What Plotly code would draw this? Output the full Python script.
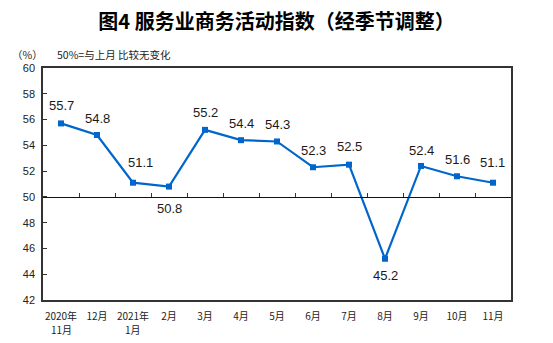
import plotly.graph_objects as go

# 服务业商务活动指数（经季节调整），2020年11月—2021年11月
months = ["2020年", "12月", "2021年", "2月", "3月", "4月", "5月",
          "6月", "7月", "8月", "9月", "10月", "11月"]
# second line under the year-opening months
month_sub = {0: "11月", 2: "1月"}
index_values = [55.7, 54.8, 51.1, 50.8, 55.2, 54.4, 54.3, 52.3, 52.5, 45.2, 52.4, 51.6, 51.1]

# label placement (pixels): negative yshift puts the label under the point
label_yshift = [18, 17, 20, -22, 17, 17, 17, 17, 18, -17, 15, 17, 20]
label_xshift = [0, 0, 7, 0, 0, 0, 0, 0, 0, 0, 0, 0, -1]

y_min, y_max, baseline = 42, 60, 50

FONT = "Liberation Sans, Arial, Noto Sans CJK SC"
CJK = "Noto Sans CJK SC, Liberation Sans"
LINE_BLUE = "#0066CC"

xs = list(range(len(months)))

fig = go.Figure()
fig.add_trace(go.Scatter(
    x=xs, y=index_values, mode="lines+markers",
    line=dict(color=LINE_BLUE, width=2.2),
    marker=dict(symbol="square", size=6, color=LINE_BLUE),
    hoverinfo="skip", showlegend=False,
))
# carrier trace for the 50% reference axis
fig.add_trace(go.Scatter(
    x=xs, y=index_values, xaxis="x2", mode="lines",
    line=dict(width=0), hoverinfo="skip", showlegend=False, opacity=0,
))

for i, v in enumerate(index_values):
    fig.add_annotation(
        x=i, y=v, text=f"{v:.1f}", showarrow=False,
        xshift=label_xshift[i], yshift=label_yshift[i],
        font=dict(family=FONT, size=13, color="#1a1a1a"),
    )

for i, txt in month_sub.items():
    fig.add_annotation(
        x=i, xref="x", yref="paper", y=0, yshift=-29, text=txt, showarrow=False,
        xanchor="center", yanchor="middle",
        font=dict(family=CJK, size=10, color="#222"),
    )

fig.add_annotation(xref="paper", yref="paper", x=0.004, y=1.06, xanchor="right",
                   yanchor="middle", text="（%）", showarrow=False,
                   font=dict(family=CJK, size=10.5, color="#222"))
fig.add_annotation(xref="paper", yref="paper", x=0.026, y=1.06, xanchor="left",
                   yanchor="middle", text="50%=与上月 比较无变化", showarrow=False,
                   font=dict(family=CJK, size=10.5, color="#222"))

fig.update_layout(
    width=553, height=343,
    margin=dict(l=43, r=42, t=68, b=43),
    paper_bgcolor="white", plot_bgcolor="white",
    title=dict(text="<b>图4 服务业商务活动指数（经季节调整）</b>",
               x=0.5, xanchor="center", y=1 - 22 / 343, yanchor="middle",
               font=dict(family=CJK, size=20, color="#000")),
    xaxis=dict(
        range=[-0.5, len(months) - 0.5], tickmode="array", tickvals=xs, ticktext=months,
        showgrid=False, zeroline=False, ticks="", showline=True, mirror=True,
        linecolor="#333", linewidth=1.5, ticklabelstandoff=6,
        tickfont=dict(family=CJK, size=10, color="#222"), tickangle=0,
    ),
    xaxis2=dict(
        overlaying="x", anchor="free", side="top",
        position=(baseline - y_min) / (y_max - y_min),
        range=[-0.5, len(months) - 0.5], tickmode="array",
        tickvals=[i + 0.5 for i in xs[:-1]], ticks="outside", ticklen=4,
        tickcolor="#333", tickwidth=1, showticklabels=False,
        showgrid=False, zeroline=False, showline=True, linecolor="#111", linewidth=1,
    ),
    yaxis=dict(
        range=[y_min, y_max], dtick=2, tick0=y_min, ticks="inside", ticklen=4,
        tickcolor="#333", showgrid=False, zeroline=False, showline=True, mirror=True,
        linecolor="#333", linewidth=1.5, ticklabelstandoff=4,
        tickfont=dict(family=FONT, size=11, color="#222"),
    ),
)

fig.write_html("out.html")
